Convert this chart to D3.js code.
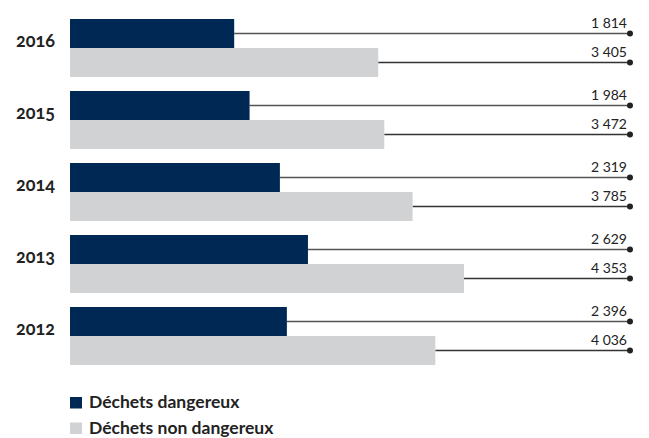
<!DOCTYPE html>
<html>
<head>
<meta charset="utf-8">
<script src="https://cdn.jsdelivr.net/npm/d3@7"></script>
<style>
  html, body { margin: 0; padding: 0; background: #fff; }
  svg { display: block; font-family: Lato, "Open Sans", sans-serif; }
</style>
</head>
<body>
<svg id="chart" width="649" height="438"></svg>
<script>
// Waste volumes per year (tonnes)
const years = ["2016", "2015", "2014", "2013", "2012"];
const hazardous = [1814, 1984, 2319, 2629, 2396];
const nonHazardous = [3405, 3472, 3785, 4353, 4036];
const seriesNames = ["Déchets dangereux", "Déchets non dangereux"];
const seriesColors = ["#002855", "#d1d2d4"];
const lineColors = ["#555", "#333"];

const svg = d3.select("#chart");

const left = 70, labelRight = 627, dotX = 630;

const x = d3.scaleLinear().domain([0, 4353]).range([left, 464]);

const y = d3.scaleBand()
  .domain(years)
  .range([19, 365])
  .paddingInner(14 / 72)
  .paddingOuter(0);

const ySub = d3.scaleBand()
  .domain([0, 1])
  .range([0, y.bandwidth()])
  .padding(0);

const fmt = d3.formatLocale({ decimal: ",", thousands: "\u00a0", grouping: [3], currency: ["", " €"] }).format(",d");

const rows = years.map((yr, i) => ({ year: yr, values: [hazardous[i], nonHazardous[i]] }));

const group = svg.selectAll("g.year")
  .data(rows)
  .join("g")
  .attr("class", "year")
  .attr("transform", d => `translate(0,${y(d.year)})`);

// Year labels
group.append("text")
  .attr("x", 55)
  .attr("y", y.bandwidth() / 2 - 1)
  .attr("text-anchor", "end")
  .attr("font-size", 18)
  .attr("font-weight", 700)
  .attr("fill", "#222")
  .style("font-feature-settings", "'onum'")
  .text(d => d.year);

const bars = group.selectAll("g.bar")
  .data(d => d.values.map((v, k) => ({ v, k })))
  .join("g")
  .attr("class", "bar");

// Leader lines from bar end to the value marker
bars.append("line")
  .attr("x1", d => x(d.v))
  .attr("x2", dotX)
  .attr("y1", d => ySub(d.k) + ySub.bandwidth() / 2)
  .attr("y2", d => ySub(d.k) + ySub.bandwidth() / 2)
  .attr("stroke", d => lineColors[d.k])
  .attr("stroke-width", 1.5);

bars.append("rect")
  .attr("x", left)
  .attr("y", d => ySub(d.k))
  .attr("width", d => x(d.v) - left)
  .attr("height", ySub.bandwidth())
  .attr("fill", d => seriesColors[d.k]);

bars.append("circle")
  .attr("cx", dotX)
  .attr("cy", d => ySub(d.k) + ySub.bandwidth() / 2)
  .attr("r", 3)
  .attr("fill", "#222");

bars.append("text")
  .attr("x", labelRight)
  .attr("y", d => ySub(d.k) + ySub.bandwidth() / 2 - 5.5)
  .attr("text-anchor", "end")
  .attr("font-size", 14)
  .attr("fill", "#222")
  .text(d => fmt(d.v));

// Legend
const legend = svg.append("g").attr("transform", "translate(70,397)");
const items = legend.selectAll("g")
  .data(seriesNames)
  .join("g")
  .attr("transform", (d, i) => `translate(0,${i * 25.5})`);
items.append("rect")
  .attr("width", 12).attr("height", 11.5)
  .attr("fill", (d, i) => seriesColors[i]);
items.append("text")
  .attr("x", 19)
  .attr("y", 11)
  .attr("font-size", 17.5)
  .attr("font-weight", 700)
  .attr("fill", "#222")
  .text(d => d);
</script>
</body>
</html>
